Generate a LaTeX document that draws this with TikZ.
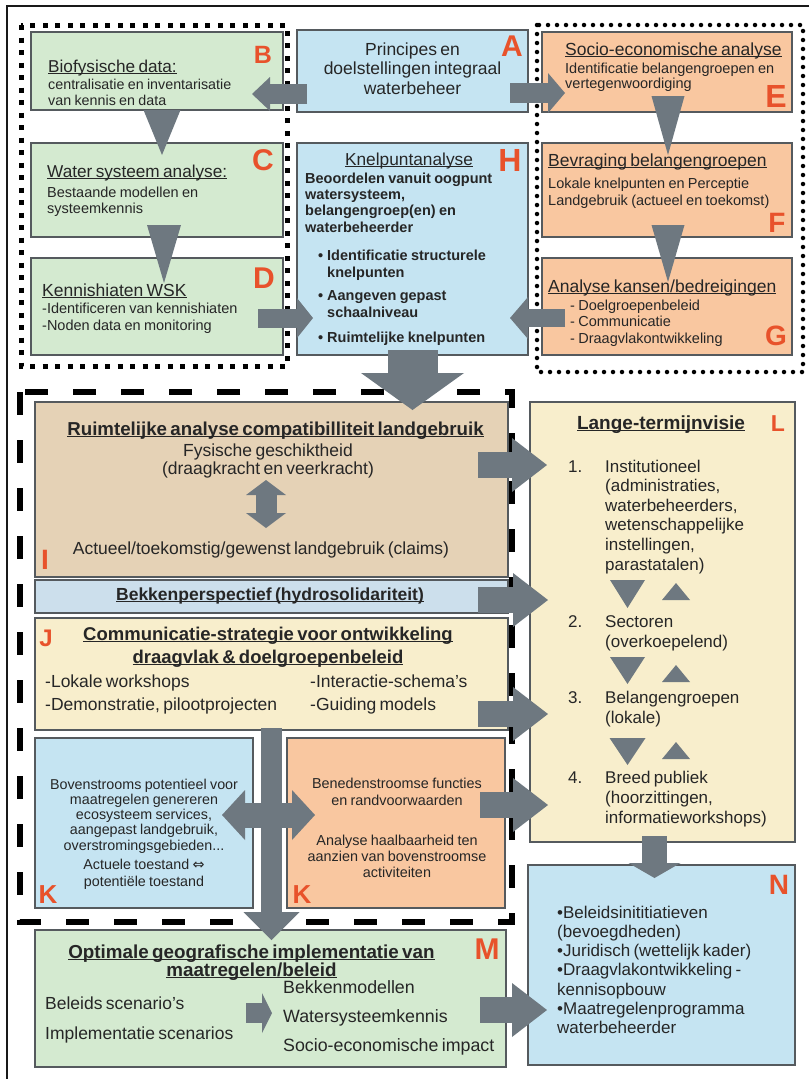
\documentclass[tikz,border=0pt]{standalone}
\usepackage{fontspec}
\setmainfont{Liberation Sans}
\newfontfamily\symfont{DejaVu Sans}
\usetikzlibrary{arrows.meta,calc}
\definecolor{grn}{HTML}{D4EAD0}
\definecolor{blu}{HTML}{C5E4F2}
\definecolor{org}{HTML}{F9C7A0}
\definecolor{yel}{HTML}{F8EECC}
\definecolor{sand}{HTML}{E5D2B6}
\definecolor{bkb}{HTML}{CCDFEC}
\definecolor{bordc}{HTML}{555A5E}
\definecolor{arrowc}{HTML}{6E7880}
\definecolor{letc}{HTML}{E8522B}
\definecolor{txtc}{HTML}{262626}
\lineskiplimit=-100pt
\newcommand\uln[1]{\leavevmode\setbox0=\hbox{#1}\rlap{\rule[-2.3pt]{\wd0}{1.1pt}}\box0}
\newcommand\fsz[2]{\fontsize{#1}{#2}\selectfont}
\begin{document}
\begin{tikzpicture}[x=1pt,y=-1pt,
  box/.style={draw=bordc, line width=1.1pt, inner sep=0pt, outer sep=0pt, anchor=north west},
  tl/.style={inner sep=0pt, text=txtc, text width=320pt, align=left, anchor=base west},
  tc/.style={inner sep=0pt, text=txtc, text width=470pt, align=center, anchor=base},
  lett/.style={inner sep=0pt, text=letc, font=\bfseries\fontsize{#1}{#1}\selectfont},
  arr/.style n args={3}{draw=arrowc, line width=#1, -{Triangle[length=#2,width=#3,line width=0pt]}},
  darr/.style n args={3}{draw=arrowc, line width=#1, {Triangle[length=#2,width=#3,line width=0pt]}-{Triangle[length=#2,width=#3,line width=0pt]}},
  tri/.style 2 args={draw=arrowc, line width=0.01pt, -{Triangle[length=#1,width=#2,line width=0pt]}},
  dotsq/.style={draw=black, line width=5pt, dash pattern=on 5pt off 7.5pt},
  dotrd/.style={draw=black, line width=4.5pt, line cap=round, dash pattern=on 0pt off 9pt},
  dashfr/.style={draw=black, line width=5.5pt, dash pattern=on 23pt off 25pt}
]
\useasboundingbox (0,0) rectangle (809,1079);
\fill[white] (0,0) rectangle (809,1079);
% outer frame
\draw[line width=2.5pt, draw=black!90] (809,6) -- (7,6) -- (7,1079);
% group frames
\draw[dotsq] (21,25) rectangle (287,366);
\draw[dotrd] (537,25) rectangle (803,372);
\draw[dashfr] (20,392) rectangle (512,922);

% boxes
\node[box, fill=grn, minimum width=252pt, minimum height=78pt] (B) at (31,32) {};
\node[box, fill=grn, minimum width=252pt, minimum height=94pt] (C) at (31,143) {};
\node[box, fill=grn, minimum width=252pt, minimum height=97pt] (D) at (31,258) {};
\node[box, fill=blu, minimum width=231pt, minimum height=82pt] (A) at (297,30) {};
\node[box, fill=blu, minimum width=231pt, minimum height=212pt] (H) at (297,143) {};
\node[box, fill=org, minimum width=250pt, minimum height=80pt] (E) at (542,32) {};
\node[box, fill=org, minimum width=250pt, minimum height=94pt] (F) at (542,143) {};
\node[box, fill=org, minimum width=250pt, minimum height=97pt] (G) at (542,258) {};
\node[box, fill=sand, minimum width=473pt, minimum height=175pt] (I) at (35,402) {};
\node[box, fill=bkb, minimum width=473pt, minimum height=33pt] (Bk) at (35,580) {};
\node[box, fill=yel, minimum width=473pt, minimum height=112pt] (J) at (35,618) {};
\node[box, fill=blu, minimum width=218pt, minimum height=170pt] (K1) at (35,738) {};
\node[box, fill=org, minimum width=218pt, minimum height=170pt] (K2) at (287,738) {};
\node[box, fill=grn, minimum width=471pt, minimum height=137pt] (M) at (35,930) {};
\node[box, fill=yel, minimum width=265pt, minimum height=440pt] (L) at (530,402) {};
\node[box, fill=blu, minimum width=267pt, minimum height=200pt] (N) at (528,865) {};

% texts
\node[tc] (tA) at (412.5,55) {\fsz{17.5}{19.5}Principes en\\doelstellingen integraal\\waterbeheer\par};
\node[tl] (tB1) at (48,72) {\fsz{17.2}{20}\uln{Biofysische data:}\par};
\node[tl] (tB2) at (48,89) {\fsz{14.3}{16}centralisatie en inventarisatie\\van kennis en data\par};
\node[tl] (tC1) at (47,177) {\fsz{17.2}{20}\uln{Water systeem analyse:}\par};
\node[tl] (tC2) at (47,197) {\fsz{14.5}{16}Bestaande modellen en\\systeemkennis\par};
\node[tl] (tD1) at (42,296) {\fsz{17.5}{20}\uln{Kennishiaten WSK}\par};
\node[tl] (tD2) at (42,313) {\fsz{14.5}{17}-Identificeren van kennishiaten\\-Noden data en monitoring\par};
\node[tl] (tE1) at (565,55) {\fsz{17.5}{20}\uln{Socio-economische analyse}\par};
\node[tl] (tE2) at (565,73) {\fsz{14.5}{15.5}Identificatie belangengroepen en\\vertegenwoordiging\par};
\node[tl] (tF1) at (548,166) {\fsz{17.5}{20}\uln{Bevraging belangengroepen}\par};
\node[tl] (tF2) at (548,188) {\fsz{14.5}{17}Lokale knelpunten en Perceptie\\Landgebruik (actueel en toekomst)\par};
\node[tl] (tG1) at (548,292) {\fsz{17.5}{20}\uln{Analyse kansen/bedreigingen}\par};
\node[tl] (tG2) at (570,310) {\fsz{14.5}{16.5}- Doelgroepenbeleid\\- Communicatie\\- Draagvlakontwikkeling\par};
\node[tc] (tH1) at (409,165) {\fsz{17.3}{20}\uln{Knelpuntanalyse}\par};
\node[tl] (tH2) at (305,183) {\bfseries\fsz{14.5}{16.4}Beoordelen vanuit oogpunt\\watersysteem,\\belangengroep(en) en\\waterbeheerder\par};
\node[tl] (tH3) at (327,260) {\bfseries\fsz{14.5}{17}\leavevmode\llap{•\hspace{4pt}}Identificatie structurele\\knelpunten\par};
\node[tl] (tH4) at (327,300) {\bfseries\fsz{14.5}{17}\leavevmode\llap{•\hspace{4pt}}Aangeven gepast\\schaalniveau\par};
\node[tl] (tH5) at (327,342) {\bfseries\fsz{14.5}{17}\leavevmode\llap{•\hspace{4pt}}Ruimtelijke knelpunten\par};

\node[tc] (tI1) at (275.5,435) {\bfseries\fsz{18.7}{20}\uln{Ruimtelijke analyse compatibilliteit landgebruik}\par};
\node[tc] (tI2) at (268,456) {\fsz{17.5}{18}Fysische geschiktheid\\(draagkracht en veerkracht)\par};
\node[tc] (tI3) at (261,554) {\fsz{17.5}{18}Actueel/toekomstig/gewenst landgebruik (claims)\par};
\node[tc] (tBk) at (270,600) {\bfseries\fsz{17.5}{20}\uln{Bekkenperspectief (hydrosolidariteit)}\par};
\node[tc] (tJ1) at (268,640) {\bfseries\fsz{18.5}{23}\uln{Communicatie-strategie voor ontwikkeling}\\\uln{draagvlak \& doelgroepenbeleid}\par};
\node[tl] (tJ2) at (45,687) {\fsz{17.5}{23}-Lokale workshops\\-Demonstratie, pilootprojecten\par};
\node[tl] (tJ3) at (310,687) {\fsz{17.5}{23}-Interactie-schema's\\-Guiding models\par};
\node[tc] (tK1) at (144,789) {\fsz{14.3}{15.3}Bovenstrooms potentieel voor\\maatregelen genereren\\ecosysteem services,\\aangepast landgebruik,\\overstromingsgebieden...\par};
\node[tc] (tK2) at (144,869) {\fsz{14.3}{17}Actuele toestand {\symfont ⇔}\\potentiële toestand\par};
\node[tc] (tK3) at (397,788) {\fsz{14.4}{17}Benedenstroomse functies\\en randvoorwaarden\par};
\node[tc] (tK4) at (397,845) {\fsz{14.4}{16}Analyse haalbaarheid ten\\aanzien van bovenstroomse\\activiteiten\par};
\node[tc] (tM1) at (251.5,958) {\bfseries\fsz{18.8}{18}\uln{Optimale geografische implementatie van}\\\uln{maatregelen/beleid}\par};
\node[tl] (tM2) at (45,1009) {\fsz{17.5}{30}Beleids scenario's\\Implementatie scenarios\par};
\node[tl] (tM3) at (283,993) {\fsz{17.8}{29}Bekkenmodellen\\Watersysteemkennis\\Socio-economische impact\par};

\node[tc] (tL0) at (661,429) {\bfseries\fsz{19}{20}\uln{Lange-termijnvisie}\par};
\node[tl] (nL1) at (568,472) {\fsz{17}{19.6}1.\par};
\node[tl] (tL1) at (605,472) {\fsz{17}{19.6}Institutioneel\\(administraties,\\waterbeheerders,\\wetenschappelijke\\instellingen,\\parastatalen)\par};
\node[tl] (nL2) at (568,627) {\fsz{17}{19.6}2.\par};
\node[tl] (tL2) at (605,627) {\fsz{17}{20}Sectoren\\(overkoepelend)\par};
\node[tl] (nL3) at (568,703) {\fsz{17}{19.6}3.\par};
\node[tl] (tL3) at (605,703) {\fsz{17}{20}Belangengroepen\\(lokale)\par};
\node[tl] (nL4) at (568,783) {\fsz{17}{19.6}4.\par};
\node[tl] (tL4) at (605,783) {\fsz{17}{20}Breed publiek\\(hoorzittingen,\\informatieworkshops)\par};
\node[tl] (tN) at (557,918) {\fsz{17}{19.3}•Beleidsinititiatieven\\(bevoegdheden)\\•Juridisch (wettelijk kader)\\•Draagvlakontwikkeling -\\kennisopbouw\\•Maatregelenprogramma\\waterbeheerder\par};

% letters
\node[lett=30] (lA) at (512,46) {A};
\node[lett=25] (lB) at (263,55) {B};
\node[lett=30] (lC) at (263,160) {C};
\node[lett=30] (lD) at (264,278) {D};
\node[lett=32] (lH) at (510,160) {H};
\node[lett=32] (lE) at (776,96) {E};
\node[lett=28] (lF) at (777,223) {F};
\node[lett=28] (lG) at (776,336) {G};
\node[lett=28] (lI) at (45,560) {I};
\node[lett=24] (lJ) at (46,638) {J};
\node[lett=26] (lK1) at (48,895) {K};
\node[lett=26] (lK2) at (302,895) {K};
\node[lett=23] (lL) at (778,424) {L};
\node[lett=30] (lM) at (487,949) {M};
\node[lett=28] (lN) at (779,885) {N};

% connectors
\draw[arr={20pt}{18pt}{34pt}] ($(A.west)+(10,23)$) -- ($(B.east)+(-31,23)$);
\draw[arr={20pt}{17pt}{40pt}] ($(A.east)+(-18,22)$) -- ($(E.west)+(23,21)$);
\draw[tri={45pt}{37pt}] ($(B.south)+(5,0)$) -- ($(C.north)+(5,12)$);
\draw[tri={58pt}{34pt}] ($(C.south)+(7,-12)$) -- ($(D.north)+(7,25)$);
\draw[tri={59pt}{33pt}] ($(E.south)+(1,-16)$) -- ($(F.north)+(1,12)$);
\draw[tri={57pt}{33pt}] ($(F.south)+(1,-12)$) -- ($(G.north)+(1,24)$);
\draw[arr={19pt}{16pt}{40pt}] ($(D.east)+(-25,11.5)$) -- ($(H.west)+(16,69)$);
\draw[arr={18pt}{18pt}{42pt}] ($(G.west)+(23,11.5)$) -- ($(H.east)+(-18,69)$);
\draw[arr={50pt}{37pt}{103pt}] ($(H.south)+(0,-5)$) -- ($(H.south |- I.north)+(0,8)$);
\draw[darr={21pt}{15pt}{40pt}] ($(I.north)+(-5.5,78)$) -- ($(I.north)+(-5.5,126)$);
\draw[arr={26pt}{35pt}{54pt}] ($(I.east)+(-30,-24.5)$) -- ($(L.west |- I.east)+(17,-24.5)$);
\draw[arr={26pt}{35pt}{54pt}] ($(Bk.east)+(-30,3.5)$) -- ($(L.west |- Bk.east)+(18,3.5)$);
\draw[arr={26pt}{35pt}{54pt}] ($(J.east)+(-30,40)$) -- ($(L.west |- J.east)+(18,40)$);
\draw[darr={25pt}{23pt}{50pt}] ($(K1.east)+(-31,-8)$) -- ($(K2.west)+(28,-8)$);
\draw[arr={26pt}{35pt}{54pt}] ($(K2.east)+(-25,-18)$) -- ($(L.west |- K2.east)+(18,-18)$);
\draw[arr={21pt}{28pt}{56pt}] ($(J.south)+(0,-2)$) -- ($(J.south |- M.north)+(0,10)$);
\draw[arr={20pt}{10pt}{40pt}] ($(M.center)+(-24.5,14.5)$) -- ($(M.center)+(1.5,14.5)$);
\draw[arr={26pt}{35pt}{54pt}] ($(M.east)+(-26,11.5)$) -- ($(N.west |- M.east)+(19,11.5)$);
\draw[arr={25pt}{15pt}{52pt}] ($(L.south)+(-8,-6)$) -- ($(L.south |- N.north)+(-8,13)$);
% triangles within L
\draw[tri={28pt}{35pt}] (627.5,580) -- (627.5,608);
\draw[tri={17pt}{28pt}] (676,600) -- (676,583);
\draw[tri={27pt}{35pt}] (627.5,657) -- (627.5,684);
\draw[tri={17pt}{28pt}] (676,682) -- (676,665);
\draw[tri={27pt}{36pt}] (627.5,738) -- (627.5,765);
\draw[tri={17pt}{28pt}] (676,759) -- (676,742);
\end{tikzpicture}
\end{document}
